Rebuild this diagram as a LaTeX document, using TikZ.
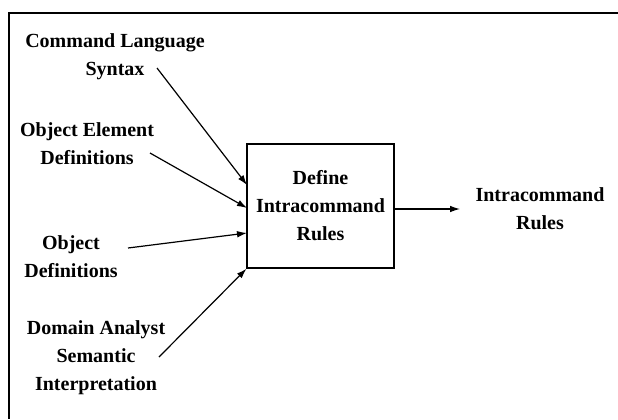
\documentclass[tikz,border=0pt]{standalone}
\usepackage{fontspec}
\setmainfont{Liberation Serif}
\usetikzlibrary{arrows.meta}
\tikzset{
    label/.style={font=\bfseries\fontsize{15}{21}\selectfont, align=center, inner sep=0pt},
    flow/.style={line width=0.9pt, -{Latex[length=7.5pt,width=5pt]}}
}

\begin{document}
\begin{tikzpicture}[x=0.75pt,y=-0.75pt]
        \useasboundingbox (0,0) rectangle (618,419);
        % frame (only top and left survive)
        \draw[line width=1.2pt] (618,13) -- (9,13) -- (9,419);
        % process box
        \node[draw, line width=1.1pt, minimum width=110pt, minimum height=93pt,
              label] (box) at (320.5,206) {Define\\Intracommand\\Rules};
        % inputs
        \node[label] (syntax) at (115,56.5) {Command Language\\Syntax};
        \node[label] (elemdef) at (87,144) {Object Element\\Definitions};
        \node[label] (objdef) at (71,257) {Object\\Definitions};
        \node[label] (semint) at (96,358) {Domain Analyst\\Semantic\\Interpretation};
        % output
        \node[label] (rules) at (540,209) {Intracommand\\Rules};
        \coordinate (s1) at (157,68);
        \coordinate (s2) at (150,153);
        \coordinate (s3) at (128,248);
        \coordinate (s4) at (159,357);
        \coordinate (e1) at (247,185);
        \coordinate (e2) at (247,208);
        \coordinate (e3) at (247,233);
        \coordinate (e5) at (460,209);
        \draw[flow] (s1) -- (e1);
        \draw[flow] (s2) -- (e2);
        \draw[flow] (s3) -- (e3);
        \draw[flow] (s4) -- (box.south west);
        \draw[flow] (box.east |- e5) -- (e5);
    \end{tikzpicture}
\end{document}
